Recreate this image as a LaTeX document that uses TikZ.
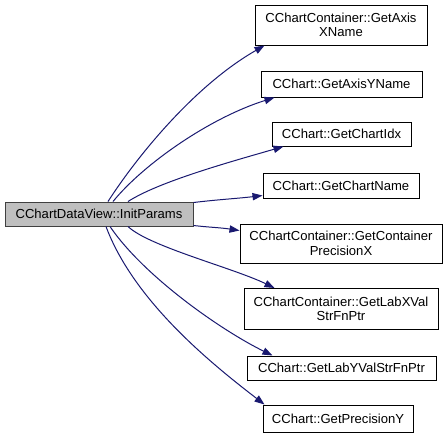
\documentclass[tikz,border=0pt]{standalone}
\usepackage{fontspec}
\setmainfont{Liberation Sans}
\usetikzlibrary{arrows.meta,calc}
\definecolor{edgecol}{HTML}{191970}
\definecolor{mainfill}{HTML}{BFBFBF}
\definecolor{mainborder}{HTML}{404040}
\begin{document}
\begin{tikzpicture}[x=0.75pt,y=-0.75pt,
  box/.style={draw=black,fill=white,line width=0.75pt,inner sep=0pt,align=center,
    font=\fontsize{9.8}{10.8}\selectfont},
  mainbox/.style={box,draw=mainborder,fill=mainfill},
  edge/.style={draw=edgecol,line width=0.75pt,-{Triangle[length=7.5pt,width=5.5pt]}}]
\useasboundingbox (0,0) rectangle (448,437);
\node[mainbox,minimum width=188*0.75pt,minimum height=24*0.75pt] (main) at (99,214) {CChartDataView::InitParams};
\node[box,minimum width=172*0.75pt,minimum height=40*0.75pt] (b1) at (341,25) {CChartContainer::GetAxis\\XName};
\node[box,minimum width=161*0.75pt,minimum height=26*0.75pt] (b2) at (341.5,84) {CChart::GetAxisYName};
\node[box,minimum width=139*0.75pt,minimum height=24*0.75pt] (b3) at (341.5,134) {CChart::GetChartIdx};
\node[box,minimum width=156*0.75pt,minimum height=25*0.75pt] (b4) at (341,185.5) {CChart::GetChartName};
\node[box,minimum width=202*0.75pt,minimum height=39*0.75pt] (b5) at (341,243.5) {CChartContainer::GetContainer\\PrecisionX};
\node[box,minimum width=194*0.75pt,minimum height=41*0.75pt] (b6) at (341,309) {CChartContainer::GetLabXVal\\StrFnPtr};
\node[box,minimum width=189*0.75pt,minimum height=24*0.75pt] (b7) at (341.5,368) {CChart::GetLabYValStrFnPtr};
\node[box,minimum width=150*0.75pt,minimum height=27*0.75pt] (b8) at (338,418.5) {CChart::GetPrecisionY};
% edges
\draw[edge] ($(main.north)+(9,0)$) .. controls ($(main.north)+(38,-45)$) and ($(b1.south west)+(-60,40)$) .. ($(b1.south west)+(10,0)$);
\draw[edge] ($(main.north)+(14,0)$) .. controls ($(main.north)+(45,-38)$) and ($(b2.south west)+(-50,20)$) .. ($(b2.south west)+(14,0)$);
\draw[edge] ($(main.north)+(29,0)$) .. controls ($(main.north)+(60,-20)$) and ($(b3.south west)+(-40,15)$) .. ($(b3.south west)+(12,0)$);
\draw[edge] ($(main.north east)+(0,1)$) .. controls ($(main.north east)+(25,-2)$) and ($(b4.south west)+(-25,0)$) .. ($(b4.south west)+(0,-3)$);
\draw[edge] ($(main.south east)+(0,-1)$) .. controls ($(main.south east)+(18,1)$) and ($(b5.north west)+(-20,4)$) .. ($(b5.north west)+(0,7)$);
\draw[edge] ($(main.south)+(29,0)$) .. controls ($(main.south)+(50,20)$) and ($(b6.north west)+(-10,-20)$) .. ($(b6.north west)+(31,0)$);
\draw[edge] ($(main.south)+(11,0)$) .. controls ($(main.south)+(45,50)$) and ($(b7.north west)+(-25,-25)$) .. ($(b7.north west)+(26,0)$);
\draw[edge] ($(main.south)+(7,0)$) .. controls ($(main.south)+(35,75)$) and ($(b8.north west)+(-50,-40)$) .. ($(b8.north west)+(2,0)$);
\end{tikzpicture}
\end{document}
